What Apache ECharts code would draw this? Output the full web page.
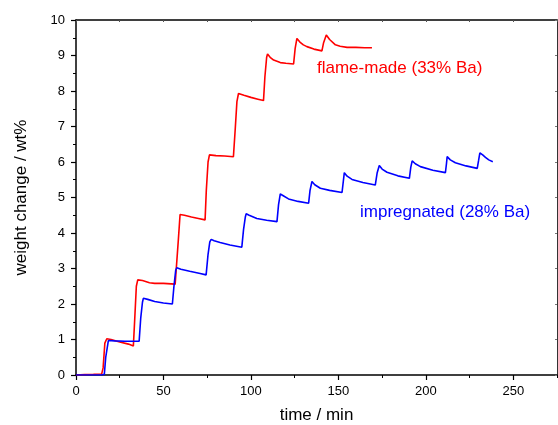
<!DOCTYPE html>
<html>
<head>
<meta charset="utf-8">
<script src="https://cdn.jsdelivr.net/npm/echarts@6/dist/echarts.min.js"></script>
<style>
html,body{margin:0;padding:0;background:#fff;}
#chart{width:558px;height:425px;}
</style>
</head>
<body>
<div id="chart"></div>
<script>
// time (min) / weight change (wt%) pairs
var flameMade = [
  [0,0],[5,0.01],[10,0.02],[14.7,0.03],[15.5,0.2],[16.5,0.9],[17.6,1.02],[20,1.0],[25,0.93],[30,0.87],[32.8,0.82],
  [33.5,1.5],[34.5,2.5],[35.3,2.68],[38,2.66],[42,2.6],[45,2.58],[50,2.58],[56.7,2.56],[57.5,2.52],
  [58.5,3.8],[59.5,4.52],[62,4.5],[66,4.45],[70,4.41],[73.8,4.37],
  [74.5,5.2],[75.5,6.0],[76.3,6.2],[80,6.18],[85,6.17],[90,6.15],
  [91,6.9],[92,7.7],[92.9,7.93],[96,7.88],[100,7.82],[104,7.77],[107.2,7.73],
  [108,8.4],[109,8.95],[109.5,9.04],[111,8.95],[113,8.87],[116.8,8.8],[120,8.78],[124.4,8.76],
  [125.3,9.2],[126.3,9.48],[128,9.38],[130,9.3],[132,9.25],[136,9.18],[140.6,9.13],
  [141.5,9.35],[143.1,9.58],[145,9.45],[148.3,9.3],[151,9.26],[155,9.23],[160,9.23],[165,9.22],[169.2,9.22]
];
var impregnated = [
  [0,0],[5,0],[10,0],[15,0],[16.2,0.02],[17,0.5],[18.5,0.97],[22,0.96],[28,0.95],[33,0.95],[36.1,0.95],
  [37,1.6],[38,2.05],[38.5,2.16],[41,2.13],[45,2.07],[50,2.03],[55.1,2.0],
  [56,2.5],[57,2.95],[57.6,3.02],[60,2.98],[65,2.92],[71,2.86],[74.4,2.82],
  [75.5,3.4],[76.5,3.75],[77.3,3.82],[79,3.78],[82.4,3.73],[88,3.66],[94.8,3.6],
  [95.8,4.1],[96.8,4.45],[97.3,4.54],[99,4.5],[103.4,4.41],[109,4.36],[114.9,4.32],
  [115.8,4.8],[116.8,5.1],[118.5,5.05],[121.5,4.96],[127,4.89],[133,4.84],
  [133.8,5.2],[134.9,5.45],[136.5,5.36],[139.7,5.26],[145,5.2],[152.1,5.14],
  [153.4,5.7],[155,5.6],[157.8,5.51],[164,5.42],[171.1,5.35],
  [172.2,5.7],[173.4,5.9],[175,5.8],[177.8,5.71],[184,5.61],[190.6,5.54],
  [191.4,5.85],[192.2,6.03],[194,5.95],[196.9,5.87],[204,5.77],[211.2,5.7],
  [211.8,5.95],[212.2,6.15],[214,6.06],[216.9,5.98],[223,5.89],[229.4,5.82],
  [230.2,6.05],[230.9,6.26],[232.5,6.2],[234.1,6.13],[236,6.06],[238.3,6.01]
];
var xMin = 0, xMax = 275, xMajor = 50, xMinor = 25;
var yMin = 0, yMax = 10, yMajor = 1;
var seriesNames = ['flame-made (33% Ba)', 'impregnated (28% Ba)'];
var axisNames = ['time / min', 'weight change / wt%'];

var FONT = 'Liberation Sans, Arial, sans-serif';
var chart = echarts.init(document.getElementById('chart'), null, {renderer:'canvas'});
var axisLineStyle = {color:'#000', width:1.5};
chart.setOption({
  animation:false,
  backgroundColor:'#fff',
  grid:{left:76, right:1, top:20, bottom:50, containLabel:false, outerBoundsMode:'none'},
  xAxis:[
    { type:'value', position:'bottom', min:xMin, max:xMax, interval:xMinor,
      axisLine:{show:true, onZero:false, lineStyle:axisLineStyle},
      axisTick:{show:true, inside:false, length:3, lineStyle:{color:'#000', width:1}},
      axisLabel:{show:false}, splitLine:{show:false},
      name:axisNames[0], nameLocation:'middle', nameGap:32,
      nameTextStyle:{fontFamily:FONT, fontSize:17, color:'#000'} },
    { type:'value', position:'bottom', min:xMin, max:xMax, interval:xMajor,
      axisLine:{show:false},
      axisTick:{show:true, inside:false, length:5, lineStyle:{color:'#000', width:1.2}},
      axisLabel:{show:true, margin:10, showMaxLabel:false, fontFamily:FONT, fontSize:13, color:'#000'},
      splitLine:{show:false} },
    { type:'value', position:'top', min:xMin, max:xMax, interval:xMinor,
      axisLine:{show:true, onZero:false, lineStyle:{color:'#000', width:1.5}},
      axisTick:{show:true, inside:true, length:2, lineStyle:{color:'#555', width:1}},
      axisLabel:{show:false}, splitLine:{show:false} }
  ],
  yAxis:[
    { type:'value', position:'left', min:yMin, max:yMax, interval:yMajor,
      axisLine:{show:true, onZero:false, lineStyle:axisLineStyle},
      axisTick:{show:true, inside:false, length:5, lineStyle:{color:'#000', width:1.2}},
      minorTick:{show:true, splitNumber:2, length:3, lineStyle:{color:'#000', width:1}},
      axisLabel:{show:true, margin:11, fontFamily:FONT, fontSize:13, color:'#000'},
      splitLine:{show:false},
      name:axisNames[1], nameLocation:'middle', nameGap:46, nameRotate:90,
      nameTextStyle:{fontFamily:FONT, fontSize:17, color:'#000'} },
    { type:'value', position:'right', min:yMin, max:yMax, interval:yMajor,
      axisLine:{show:true, onZero:false, lineStyle:{color:'#333', width:1}},
      axisTick:{show:true, inside:true, length:2, lineStyle:{color:'#777', width:1}},
      axisLabel:{show:false}, splitLine:{show:false} }
  ],
  series:[
    { name:seriesNames[0], type:'line', xAxisIndex:0, yAxisIndex:0, data:flameMade,
      showSymbol:false, symbol:'none', smooth:false,
      lineStyle:{color:'#ff0000', width:1.6}, itemStyle:{color:'#ff0000'} },
    { name:seriesNames[1], type:'line', xAxisIndex:0, yAxisIndex:0, data:impregnated,
      showSymbol:false, symbol:'none', smooth:false,
      lineStyle:{color:'#0000ff', width:1.6}, itemStyle:{color:'#0000ff'} }
  ],
  graphic:[
    { type:'text', left:317, top:60, style:{text:seriesNames[0], fill:'#ff0000', font:'17px ' + FONT} },
    { type:'text', left:360, top:204, style:{text:seriesNames[1], fill:'#0000ff', font:'17px ' + FONT} }
  ]
});
</script>
</body>
</html>
